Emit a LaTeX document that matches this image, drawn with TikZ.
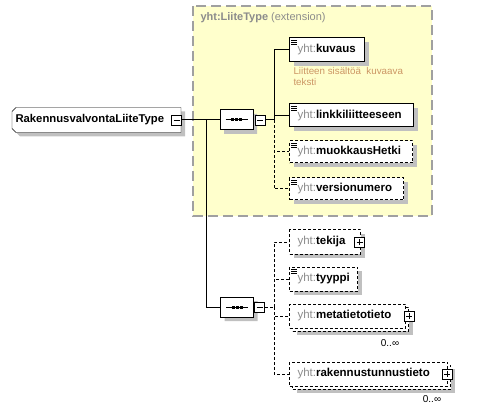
\documentclass[tikz,border=0pt]{standalone}
\usepackage{fontspec}
\setmainfont{Liberation Sans}
\usetikzlibrary{shapes.misc, shadows, backgrounds}
\definecolor{baseYellow}{RGB}{255,255,204}
\definecolor{baseEdge}  {RGB}{160,160,160}
\definecolor{prefixGray}{RGB}{140,140,140}
\definecolor{docTan}    {RGB}{204,150,100}
\definecolor{shadeGray} {RGB}{192,192,192}

\newcommand{\yht}{\textcolor{prefixGray}{yht:}}
\newcommand{\listmark}[1]{\foreach \d in {0,2,4} \draw[line width=0.7pt] ([shift={(2,2.5+\d)}]#1.north west) -- ++(6,0);}
\newcommand{\seqmark}[1]{%
  \draw ([xshift=6]#1.west) -- ([xshift=-6]#1.east);
  \foreach \d in {-4,0,4} \fill ([xshift=\d]#1.center) +(-1.5,-1.5) rectangle +(1.5,1.5);}

\tikzset{
  shade box/.style={drop shadow={shadow xshift=4pt, shadow yshift=-4pt, fill=shadeGray, opacity=1}},
  dashes/.style={dash pattern=on 3pt off 2pt},
  box/.style={draw, fill=white, anchor=west, minimum height=24pt, inner xsep=8pt, inner ysep=0pt, align=left},
  elem/.style={box, shade box},
  opt/.style={elem, dashes},
  optfront/.style={box, dashes},
  seq/.style={chamfered rectangle, chamfered rectangle xsep=5pt, draw, fill=white,
    minimum width=33pt, minimum height=20pt, inner sep=0pt, shade box},
  signbox/.style={draw, fill=white, minimum size=10pt, inner sep=0pt, line width=0.8pt},
  minusbox/.style={signbox, path picture={
    \draw ([xshift=2pt]path picture bounding box.west) -- ([xshift=-2pt]path picture bounding box.east);}},
  plusbox/.style={signbox, path picture={
    \draw ([xshift=2pt]path picture bounding box.west) -- ([xshift=-2pt]path picture bounding box.east);
    \draw ([yshift=-2pt]path picture bounding box.north) -- ([yshift=2pt]path picture bounding box.south);}},
  count/.style={font=\fontsize{10}{12}\selectfont, inner sep=0pt}
}

\begin{document}
\begin{tikzpicture}[x=1pt, y=-1pt, line width=1pt, font=\fontsize{11.5}{13}\selectfont]
  \useasboundingbox (0,0) rectangle (478,411);

  % extension base
  \draw[baseEdge, fill=baseYellow, line width=1.5pt, dash pattern=on 10pt off 5pt] (193,6) rectangle (432,216);
  \node[anchor=west, inner sep=0pt, text=prefixGray, font=\fontsize{11}{13}\selectfont] (baseTitle) at (200,18)
    {\textbf{yht:LiiteType} (extension)};

  % root type
  \node[anchor=west, minimum width=168pt, minimum height=24pt, inner sep=0pt, font=\fontsize{11.3}{13}\selectfont]
    (root) at (12,120) {\makebox[162pt][l]{\textbf{RakennusvalvontaLiiteType}}};
  \begin{scope}[on background layer]
    \draw[fill=white, shade box] ([xshift=4]root.north west) -- (root.north east) -- (root.south east)
      -- ([xshift=4]root.south west) -- ([yshift=4]root.south west) -- ([yshift=-4]root.north west) -- cycle;
  \end{scope}
  \node[minusbox] (rootMinus) at (176.5,120) {};

  % sequences
  \node[seq] (seqA) at (236.5,120) {};
  \node[minusbox] (seqAMinus) at (260,120) {};
  \seqmark{seqA}
  \node[seq] (seqB) at (237,307) {};
  \node[minusbox] (seqBMinus) at (259.5,307) {};
  \seqmark{seqB}

  % elements of the base
  \node[elem, text width=59pt] (kuvaus) at (289,50) {\yht\textbf{kuvaus}};
  \listmark{kuvaus}
  \node[anchor=north west, inner sep=0pt, text=docTan, align=left, font=\fontsize{9.8}{11}\selectfont]
    (kuvausDoc) at (293,67) {Liitteen sisältöä\ \ kuvaava\\teksti};
  \node[elem, text width=108pt, minimum height=23pt] (linkki) at (289,115.5) {\yht\textbf{linkkiliitteeseen}};
  \listmark{linkki}
  \node[opt, text width=107pt, minimum height=22pt] (muokkaus) at (289,152) {\yht\textbf{muokkausHetki}};
  \listmark{muokkaus}
  \node[opt, text width=98pt, minimum height=22pt] (versio) at (289,189) {\yht\textbf{versionumero}};
  \listmark{versio}

  % own elements
  \node[opt, text width=55pt] (tekija) at (289,242) {\yht\textbf{tekija}};
  \node[plusbox] (tekijaPlus) at ([xshift=-1.5]tekija.east) {};
  \node[opt, text width=52pt] (tyyppi) at (289,279) {\yht\textbf{tyyppi}};
  \listmark{tyyppi}
  \node[opt, text width=100pt] (metaBack) at (292,319) {};
  \node[optfront, text width=100pt] (meta) at (289,316) {\yht\textbf{metatietotieto}};
  \node[plusbox] (metaPlus) at ([xshift=3]meta.east) {};
  \node[count] (metaCount) at (390,343) {0..∞};
  \node[opt, text width=142pt] (rakBack) at (292,377) {};
  \node[optfront, text width=142pt] (rak) at (289,374) {\yht\textbf{rakennustunnustieto}};
  \node[plusbox] (rakPlus) at ([xshift=-1]rak.east) {};
  \node[count] (rakCount) at (432,399) {0..∞};

  % connectors
  \coordinate (forkA) at (206,120);
  \coordinate (busA) at (274,120);
  \coordinate (busB) at (274,307);
  \draw (rootMinus.east) -- (seqA.west);
  \draw (forkA) |- (seqB.west);
  \draw (seqAMinus.east) -- (busA);
  \draw (busA) |- (kuvaus.west);
  \draw (busA) |- (linkki.west);
  \draw[dashes] (busA) |- (muokkaus.west);
  \draw[dashes] (busA) |- (versio.west);
  \draw[dashes] (seqBMinus.east) -- (busB);
  \draw[dashes] (busB) |- (tekija.west);
  \draw[dashes] (busB) |- (tyyppi.west);
  \draw[dashes] (busB) |- (meta.west);
  \draw[dashes] (busB) |- (rak.west);
\end{tikzpicture}
\end{document}
